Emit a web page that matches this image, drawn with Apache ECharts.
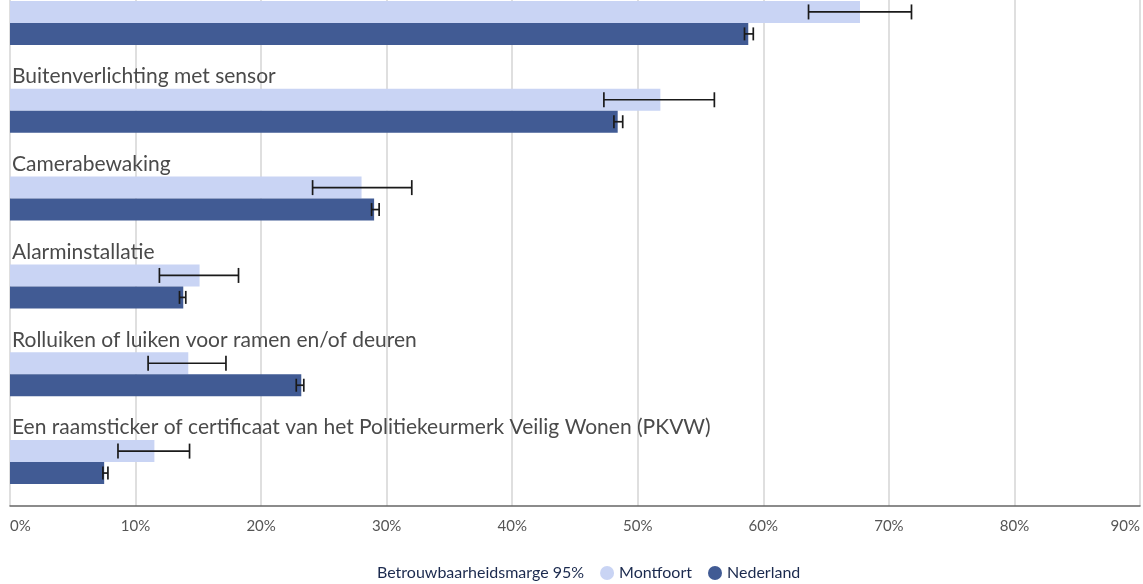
<!DOCTYPE html>
<html>
<head>
<meta charset="utf-8">
<script src="https://cdn.jsdelivr.net/npm/echarts@6/dist/echarts.min.js"></script>
<style>
  html, body { margin: 0; padding: 0; background: #ffffff; overflow: hidden; }
  /* the first row starts just above the visible top edge */
  #chart { width: 1143px; height: 606px; margin-top: -22px; }
</style>
</head>
<body>
<div id="chart"></div>
<script>
// Preventiemaatregelen: aandeel huishoudens (%) met 95%-betrouwbaarheidsmarge
const categories = [
  'Extra veiligheidssloten of grendels op deuren',
  'Buitenverlichting met sensor',
  'Camerabewaking',
  'Alarminstallatie',
  'Rolluiken of luiken voor ramen en/of deuren',
  'Een raamsticker of certificaat van het Politiekeurmerk Veilig Wonen (PKVW)'
];
const montfoort = [67.7, 51.8, 28.0, 15.1, 14.2, 11.5];
const montfoortLow = [63.6, 47.3, 24.1, 11.9, 11.0, 8.6];
const montfoortHigh = [71.8, 56.1, 32.0, 18.2, 17.2, 14.3];
const nederland = [58.8, 48.4, 29.0, 13.8, 23.2, 7.5];
const nederlandLow = [58.5, 48.1, 28.8, 13.5, 22.8, 7.4];
const nederlandHigh = [59.2, 48.8, 29.4, 14.0, 23.4, 7.8];
const xTicks = { min: 0, max: 90, interval: 10 };

const FONT = 'Lato, "Noto Sans", sans-serif';
const LIGHT = '#c9d4f4';
const DARK = '#415b94';
const MARGIN_NAME = 'Betrouwbaarheidsmarge 95%';

// error bar with caps, shifted up (-1) or down (+1) to sit on its own bar
function errorBar(side, capHalf) {
  return function (params, api) {
    const cat = api.value(0);
    const lo = api.coord([api.value(1), cat]);
    const hi = api.coord([api.value(2), cat]);
    const band = api.size([0, 1])[1];
    const dy = side * band * 0.125;
    const y = lo[1] + dy;
    const style = { stroke: '#1a1a1a', lineWidth: 1.7 };
    return {
      type: 'group',
      children: [
        { type: 'line', shape: { x1: lo[0], y1: y, x2: hi[0], y2: y }, style },
        { type: 'line', shape: { x1: lo[0], y1: y - capHalf, x2: lo[0], y2: y + capHalf }, style },
        { type: 'line', shape: { x1: hi[0], y1: y - capHalf, x2: hi[0], y2: y + capHalf }, style }
      ]
    };
  };
}

const chart = echarts.init(document.getElementById('chart'), null, { renderer: 'canvas' });
chart.setOption({
  animation: false,
  textStyle: { fontFamily: FONT },
  grid: { left: 10, right: 0, top: 0, bottom: 78, containLabel: false },
  legend: {
    bottom: 3,
    left: 358,
    padding: 0,
    itemWidth: 14,
    itemHeight: 14,
    itemGap: 16,
    textStyle: { fontFamily: FONT, fontSize: 16, color: '#1b2a4e' },
    data: [
      { name: MARGIN_NAME, icon: 'none' },
      { name: 'Montfoort', icon: 'circle' },
      { name: 'Nederland', icon: 'circle' }
    ]
  },
  xAxis: {
    type: 'value',
    min: xTicks.min,
    max: xTicks.max,
    interval: xTicks.interval,
    axisLine: { show: true, lineStyle: { color: '#666666', width: 1.5 } },
    axisTick: { show: false },
    splitLine: { show: true, lineStyle: { color: '#d4d4d4', width: 1.5 } },
    axisLabel: {
      formatter: '{value}%',
      color: '#555555',
      fontSize: 15,
      fontFamily: FONT,
      margin: 13,
      alignMinLabel: 'left',
      alignMaxLabel: 'right'
    }
  },
  yAxis: {
    type: 'category',
    data: categories,
    inverse: true,
    axisLine: { show: false },
    axisTick: { show: false },
    splitLine: { show: false },
    axisLabel: {
      inside: true,
      margin: 2,
      verticalAlign: 'bottom',
      padding: [0, 0, 24, 0],
      color: '#4a4a4a',
      fontSize: 21,
      fontFamily: FONT
    }
  },
  series: [
    {
      name: 'Montfoort',
      type: 'bar',
      data: montfoort,
      barWidth: 22,
      barGap: '0%',
      itemStyle: { color: LIGHT }
    },
    {
      name: 'Nederland',
      type: 'bar',
      data: nederland,
      barWidth: 22,
      barGap: '0%',
      itemStyle: { color: DARK }
    },
    {
      name: MARGIN_NAME,
      type: 'custom',
      renderItem: errorBar(-1, 7.5),
      encode: { x: [1, 2], y: 0 },
      data: categories.map((c, i) => [i, montfoortLow[i], montfoortHigh[i]]),
      z: 5
    },
    {
      name: MARGIN_NAME,
      type: 'custom',
      renderItem: errorBar(1, 6.5),
      encode: { x: [1, 2], y: 0 },
      data: categories.map((c, i) => [i, nederlandLow[i], nederlandHigh[i]]),
      z: 5
    }
  ]
});
</script>
</body>
</html>
